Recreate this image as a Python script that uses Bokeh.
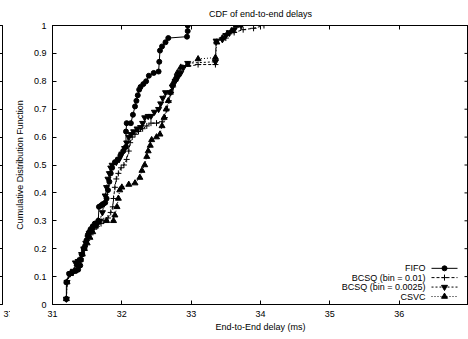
from bokeh.plotting import figure
from bokeh.models import Range1d, LinearAxis, FixedTicker, Label
from bokeh.layouts import row
from bokeh.core.properties import value
from bokeh.embed import file_html
from bokeh.resources import INLINE

FONT = "Liberation Sans"
FS = "9px"

# ---------------- data ----------------
fifo_x = [31.20, 31.20, 31.24, 31.28, 31.33, 31.37, 31.40, 31.41, 31.43, 31.45, 31.47, 31.49,
          31.51, 31.53, 31.55, 31.58, 31.61, 31.64, 31.66, 31.67, 31.70, 31.73, 31.76, 31.78,
          31.80, 31.82, 31.84, 31.86, 31.90, 31.94, 31.98, 32.02, 32.06, 32.06, 32.07, 32.13,
          32.16, 32.19, 32.21, 32.23, 32.25, 32.27, 32.31, 32.35, 32.39, 32.46, 32.53, 32.54,
          32.55, 32.58, 32.63, 32.67, 32.94, 32.95, 32.95]
fifo_y = [0.02, 0.08, 0.11, 0.115, 0.12, 0.125, 0.14, 0.16, 0.18, 0.20, 0.21, 0.23,
          0.25, 0.26, 0.27, 0.28, 0.29, 0.29, 0.30, 0.35, 0.355, 0.36, 0.365, 0.38,
          0.41, 0.44, 0.47, 0.49, 0.51, 0.52, 0.535, 0.55, 0.565, 0.62, 0.65, 0.65,
          0.68, 0.71, 0.73, 0.75, 0.77, 0.78, 0.79, 0.80, 0.82, 0.83, 0.835, 0.87,
          0.91, 0.925, 0.94, 0.955, 0.96, 0.98, 1.0]

bcsq01_x = [31.20, 31.21, 31.25, 31.31, 31.35, 31.38, 31.42, 31.46, 31.50, 31.55, 31.60, 31.64,
            31.70, 31.74, 31.80, 31.84, 31.87, 31.88, 31.90, 31.92, 31.95, 31.99, 32.03, 32.07,
            32.10, 32.12, 32.15, 32.19, 32.24, 32.30, 32.36, 32.42, 32.50, 32.58, 32.62, 32.65,
            32.68, 32.71, 32.74, 32.77, 32.80, 32.84, 32.88, 33.10, 33.35, 33.36, 33.50, 33.55,
            33.62, 33.75, 33.90, 34.05]
bcsq01_y = [0.02, 0.08, 0.11, 0.12, 0.14, 0.16, 0.18, 0.20, 0.23, 0.25, 0.27, 0.28,
            0.29, 0.30, 0.31, 0.33, 0.35, 0.38, 0.42, 0.45, 0.47, 0.49, 0.50, 0.52,
            0.55, 0.58, 0.60, 0.61, 0.62, 0.63, 0.64, 0.65, 0.65, 0.655, 0.67, 0.70,
            0.73, 0.76, 0.78, 0.80, 0.82, 0.84, 0.85, 0.86, 0.86, 0.94, 0.955, 0.97,
            0.975, 0.985, 0.99, 1.0]

bcsq0025_x = [31.20, 31.21, 31.25, 31.30, 31.33, 31.37, 31.40, 31.42, 31.45, 31.48, 31.51, 31.53,
              31.56, 31.60, 31.64, 31.68, 31.72, 31.74, 31.76, 31.78, 31.80, 31.82, 31.84, 31.86,
              31.92, 31.96, 32.00, 32.04, 32.07, 32.10, 32.13, 32.17, 32.22, 32.27, 32.30, 32.33,
              32.38, 32.42, 32.47, 32.53, 32.56, 32.59, 32.63, 32.70, 32.73, 32.77, 32.81, 32.85,
              32.89, 32.95, 33.35, 33.36, 33.45, 33.50, 33.55, 33.62, 33.72]
bcsq0025_y = [0.02, 0.08, 0.11, 0.12, 0.15, 0.155, 0.16, 0.18, 0.20, 0.22, 0.24, 0.255,
              0.265, 0.28, 0.29, 0.30, 0.33, 0.36, 0.39, 0.42, 0.45, 0.47, 0.49, 0.50,
              0.51, 0.52, 0.54, 0.56, 0.58, 0.60, 0.61, 0.62, 0.63, 0.635, 0.65, 0.67,
              0.675, 0.675, 0.69, 0.70, 0.72, 0.74, 0.76, 0.76, 0.78, 0.80, 0.815, 0.83,
              0.85, 0.865, 0.87, 0.945, 0.95, 0.965, 0.975, 0.985, 1.0]

csvc_x = [31.20, 31.21, 31.26, 31.32, 31.36, 31.40, 31.43, 31.46, 31.50, 31.54, 31.58, 31.62,
          31.66, 31.78, 31.88, 31.90, 31.93, 31.95, 31.97, 32.00, 32.10, 32.19, 32.26, 32.29,
          32.33, 32.36, 32.38, 32.41, 32.43, 32.50, 32.55, 32.58, 32.61, 32.64, 32.67, 32.70,
          32.73, 32.77, 32.80, 32.85, 32.95, 33.10, 33.35, 33.37, 33.45, 33.52, 33.58, 33.65]
csvc_y = [0.02, 0.08, 0.11, 0.12, 0.14, 0.16, 0.18, 0.20, 0.22, 0.24, 0.26, 0.28,
          0.30, 0.30, 0.30, 0.32, 0.35, 0.38, 0.41, 0.42, 0.43, 0.435, 0.455, 0.48,
          0.50, 0.53, 0.55, 0.57, 0.59, 0.60, 0.61, 0.64, 0.67, 0.70, 0.73, 0.76,
          0.79, 0.81, 0.83, 0.85, 0.86, 0.88, 0.885, 0.94, 0.955, 0.97, 0.98, 1.0]

series_names = ["FIFO", "BCSQ (bin = 0.01)", "BCSQ (bin = 0.0025)", "CSVC"]
x_ticks = [31, 32, 33, 34, 35, 36, 37]
x_tick_labels = ["31", "32", "33", "34", "35", "36", "37"]
y_ticks = [0, 0.1, 0.2, 0.3, 0.4, 0.5, 0.6, 0.7, 0.8, 0.9, 1]
y_tick_labels = ["0", "0.1", "0.2", "0.3", "0.4", "0.5", "0.6", "0.7", "0.8", "0.9", "1"]

# ---------------- styling ----------------
styles = [
    dict(dash="solid", marker="circle", size=5),
    dict(dash="3 2", marker="cross", size=6),
    dict(dash="2 2", marker="inverted_triangle", size=6),
    dict(dash="1 2", marker="triangle", size=6),
]
X0, X1 = 31, 37
FRAME_W, FRAME_H = 416, 280
TICK_PX = 4


def style_axis(ax, labels=True):
    ax.major_tick_in = TICK_PX
    ax.major_tick_out = 0
    ax.minor_tick_line_color = None
    ax.axis_line_color = "black"
    ax.major_tick_line_color = "black"
    ax.major_label_text_font = FONT
    ax.major_label_text_font_size = FS
    ax.major_label_text_color = "black" if labels else None
    ax.axis_label_text_font = FONT
    ax.axis_label_text_font_size = FS
    ax.axis_label_text_font_style = "normal"
    ax.axis_label_text_color = "black"
    if not labels:
        ax.major_label_standoff = 0


# ---------------- remnant of the neighbouring panel ----------------
pa = figure(width=10, height=339, x_range=Range1d(36.5, 37), y_range=Range1d(0, 1),
            output_backend="svg", toolbar_location=None, y_axis_location="right",
            min_border_left=0, min_border_right=8, min_border_top=24, min_border_bottom=35)
pa.outline_line_color = None
pa.grid.visible = False
pa.xaxis.ticker = FixedTicker(ticks=[37])
pa.yaxis.ticker = FixedTicker(ticks=y_ticks)
style_axis(pa.xaxis[0])
pa.xaxis.major_label_standoff = 6
style_axis(pa.yaxis[0], labels=False)
pa_top = LinearAxis(ticker=FixedTicker(ticks=[37]))
style_axis(pa_top, labels=False)
pa.add_layout(pa_top, "above")

# ---------------- main panel ----------------
p = figure(width=458, height=339, x_range=Range1d(X0, X1), y_range=Range1d(0, 1),
           output_backend="svg", toolbar_location=None,
           min_border_left=42, min_border_right=0, min_border_top=24, min_border_bottom=35,
           title="CDF of end-to-end delays")
p.title.align = "center"
p.title.text_font = FONT
p.title.text_font_size = FS
p.title.text_font_style = "normal"
p.title.text_color = "black"
p.title.offset = 0
p.title.standoff = 13
p.outline_line_color = "black"
p.grid.visible = False
p.background_fill_color = "white"
p.border_fill_color = "white"

p.xaxis.ticker = FixedTicker(ticks=x_ticks)
p.yaxis.ticker = FixedTicker(ticks=y_ticks)
# the last x label sits on the window edge: draw it as an unclipped label below
p.xaxis.major_label_overrides = {t: (l if t != X1 else "") for t, l in zip(x_ticks, x_tick_labels)}
p.yaxis.major_label_overrides = {t: l for t, l in zip(y_ticks, y_tick_labels)}
style_axis(p.xaxis[0])
style_axis(p.yaxis[0])
p.xaxis.axis_label = "End-to-End delay (ms)"
p.yaxis.axis_label = "Cumulative Distribution Function"
p.xaxis.major_label_standoff = 6
p.xaxis.axis_label_standoff = 2
p.yaxis.major_label_standoff = 6
p.yaxis.axis_label_standoff = 6

p.add_layout(Label(x=X1, y=0, text=x_tick_labels[-1], text_align="center", text_baseline="top",
                   y_offset=-6, text_font=FONT, text_font_size=FS, text_color="black"))

top_ax = LinearAxis(ticker=FixedTicker(ticks=x_ticks))
style_axis(top_ax, labels=False)
p.add_layout(top_ax, "above")

# mirror ticks on the right edge (inward), drawn through the data scales
tick_dx = TICK_PX / FRAME_W * (X1 - X0)
p.segment(x0=[X1] * len(y_ticks), y0=y_ticks, x1=[X1 - tick_dx] * len(y_ticks), y1=y_ticks,
          line_color="black", line_width=1)

data = [(fifo_x, fifo_y), (bcsq01_x, bcsq01_y), (bcsq0025_x, bcsq0025_y), (csvc_x, csvc_y)]
for (xs, ys), st in zip(data, styles):
    p.line(xs, ys, line_color="black", line_width=1, line_dash=st["dash"])
    p.scatter(xs, ys, marker=st["marker"], size=st["size"], line_color="black",
              fill_color="black", line_width=1)

# ---------------- legend (gnuplot style: text right, sample left->right) ----------------
def px_to_x(px):
    return X0 + (px - 52) / FRAME_W * (X1 - X0)


def px_to_y(py):
    return (304 - py) / FRAME_H


leg_rows_px = [267.7, 277.0, 286.5, 296.0]
text_x = px_to_x(425)
s0, s1, sm = px_to_x(431), px_to_x(457), px_to_x(444)
for name, st, rp in zip(series_names, styles, leg_rows_px):
    ly = px_to_y(rp)
    p.text(x=[text_x], y=[ly], text=[name], text_align="right", text_baseline="middle",
           text_font=value(FONT), text_font_size=FS, text_color="black")
    p.line([s0, s1], [ly, ly], line_color="black", line_width=1, line_dash=st["dash"])
    p.scatter([sm], [ly], marker=st["marker"], size=st["size"], line_color="black",
              fill_color="black")

layout = row(pa, p, spacing=0)
open("out.html", "w").write(file_html(layout, INLINE))
